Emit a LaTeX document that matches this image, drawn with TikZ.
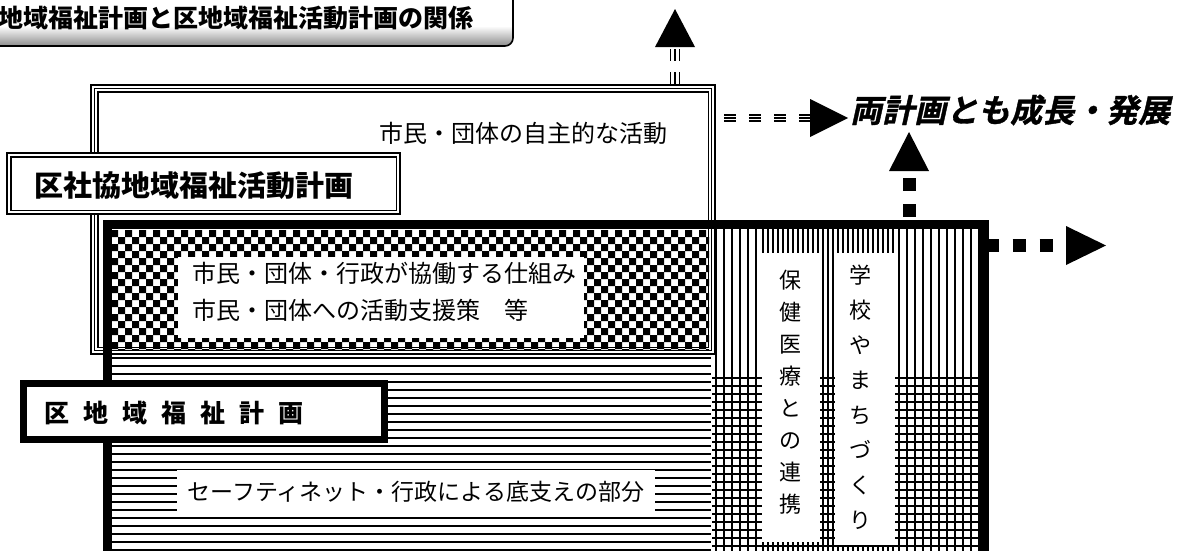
\documentclass[tikz,border=0pt]{standalone}
\usepackage{fontspec}
\setmainfont{Noto Sans CJK JP}
\newfontfamily\jpb{Noto Sans CJK JP Black}
\newfontfamily\jpbi{Noto Sans CJK JP Bold}[FakeSlant=0.22,FakeBold=1.2]
\usetikzlibrary{calc}
\newcommand\jfs[1]{\fontsize{#1}{#1}\selectfont}
\begin{document}
\begin{tikzpicture}[x=1pt,y=-1pt,
  stripe/.style={line width=1.7},
  thinstripe/.style={line width=1.3},
  plain/.style={inner sep=0},
  whitebox/.style={fill=white,inner sep=0},
  tri/.style={fill=black}]
\fill[white] (0,0) rectangle (1190,550);
\useasboundingbox (0,0) rectangle (1190,550);

% title bar
\shade[top color=white,bottom color=black!45,middle color=white,rounded corners=8] (-10,6) rectangle (513,46);
\draw[line width=1.6,rounded corners=8] (-10,46) -- (513,46) -- (513,-10);
\node[plain,anchor=west,font=\jpb\jfs{25}] (title) at (-2,18) {地域福祉計画と区地域福祉活動計画の関係};

% checker pattern
\begin{scope}
\clip (111,228) rectangle (709,350);
\foreach \i in {0,...,43} {
  \foreach \j in {0,...,9} {
    \fill (111+14*\i,230+14*\j) rectangle ++(7,7) (118+14*\i,237+14*\j) rectangle ++(7,7);
  }
}
\end{scope}

% horizontal stripes
\begin{scope}
\clip (111,352) rectangle (711,560);
\foreach \k in {0,...,26} \draw[stripe] (111,358+8*\k) -- (711,358+8*\k);
\end{scope}

% vertical stripes and grid
\begin{scope}
\clip (712,228) rectangle (980,560);
\foreach \k in {0,...,5} \draw[stripe] (716+8*\k,228) -- ++(0,340);
\foreach \k in {0,...,26} \draw[thinstripe] (763+5*\k,228) -- ++(0,340);
\foreach \k in {0,...,10} \draw[stripe] (899+8*\k,228) -- ++(0,340);
\foreach \k in {0,...,22} \draw[stripe] (712,378+8*\k) -- (980,378+8*\k);
\end{scope}

% outer triple box
\node[draw,line width=2.5,minimum width=624,minimum height=269,inner sep=0] (outer) at (403,219.5) {};
\draw[line width=1.2] ($(outer.north west)+(4.5,4.5)$) rectangle ($(outer.south east)+(-4.5,-4.5)$);
\draw[line width=1.5] ($(outer.north west)+(8,8)$) rectangle ($(outer.south east)+(-8,-8)$);
\node[plain,font=\jfs{24}] (act) at (523,133) {市民・団体の自主的な活動};

% up arrow from outer box
\coordinate (upA) at (675,47);
\foreach \dx in {-4.5,0,4.5}
  \draw[line width=1.8,dash pattern=on 12 off 11] ($(outer.north -| upA)+(\dx,0)$) -- ($(upA)+(\dx,0)$);
\fill[tri] ($(upA)+(-20,0)$) -- ($(upA)+(0,-38)$) -- ($(upA)+(20,0)$) -- cycle;

% right arrow from outer box
\coordinate (rA) at (810,118);
\foreach \dy in {-3,0,3}
  \draw[line width=1.5,dash pattern=on 12 off 13,dash phase=17] ($(outer.east |- rA)+(0,\dy)$) -- ($(rA)+(0,\dy)$);
\fill[tri] ($(rA)+(0,-19)$) -- ($(rA)+(38,0)$) -- ($(rA)+(0,19)$) -- cycle;
\node[plain,anchor=west,font=\jpbi\jfs{32}] (grow) at (850,110) {両計画とも成長・発展};

% 区社協 box
\node[draw,fill=white,line width=1.5,minimum width=393,minimum height=61,inner sep=0] (shakyo) at (203.5,183.5) {};
\draw[line width=1.5] ($(shakyo.north west)+(4.5,4.5)$) rectangle ($(shakyo.south east)+(-4.5,-4.5)$);
\node[plain,font=\jpb\jfs{29}] (shakyoT) at (194,186) {区社協地域福祉活動計画};

% thick box
\node[draw,line width=9,minimum width=877,minimum height=376,inner sep=0] (plan) at (545.5,412) {};

% arrows from thick box
\coordinate (upB) at (909,171);
\draw[line width=13,dash pattern=on 13 off 13] ($(plan.north -| upB)+(0,-3)$) -- (upB);
\fill[tri] ($(upB)+(-20,0)$) -- ($(upB)+(0,-39)$) -- ($(upB)+(20,0)$) -- cycle;
\coordinate (rB) at (1066,245.5);
\draw[line width=13,dash pattern=on 13 off 14] ($(plan.east |- rB)+(-3,0)$) -- (rB);
\fill[tri] ($(rB)+(0,-19.5)$) -- ($(rB)+(40,0)$) -- ($(rB)+(0,19.5)$) -- cycle;

% white text boxes
\node[whitebox,minimum width=406,minimum height=81] (coop) at (381,297.5) {};
\node[plain,anchor=west,align=left,font=\fontsize{24}{37}\selectfont] (coopT) at (192,292) {市民・団体・行政が協働する仕組み\\市民・団体への活動支援策　等};
\node[whitebox,minimum width=478,minimum height=43,font=\jfs{23}] (safety) at (416,491.5) {セーフティネット・行政による底支えの部分};
\node[whitebox,minimum width=58,minimum height=289] (health) at (791,397.5) {};
\node[plain,align=center,font=\fontsize{22}{32}\selectfont] (healthT) at (790,392) {保\\健\\医\\療\\と\\の\\連\\携};
\node[whitebox,minimum width=60,minimum height=292] (school) at (865,399) {};
\node[plain,align=center,font=\fontsize{22}{35}\selectfont] (schoolT) at (860,397.5) {学\\校\\や\\ま\\ち\\づ\\く\\り};

% 区地域福祉計画 box
\node[draw,fill=white,line width=7,minimum width=361,minimum height=56,inner sep=0] (kuplan) at (204,411.5) {};
\node[plain,anchor=west,font=\jpb\jfs{25}] (kuplanT) at (44,413) {区\kern14pt 地\kern14pt 域\kern14pt 福\kern14pt 祉\kern14pt 計\kern14pt 画};
\end{tikzpicture}
\end{document}
